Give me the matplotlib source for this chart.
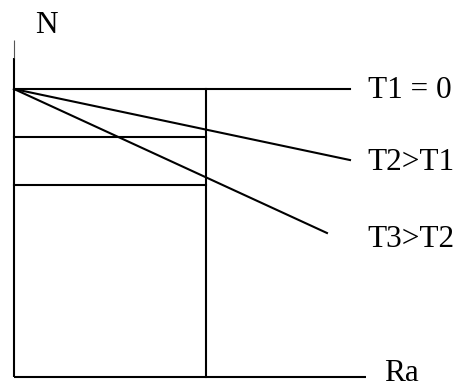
import matplotlib.pyplot as plt

# schematic N vs Ra, arbitrary units (Ra_c = 1)
ra_crit = 1.0
ra_end = 1.833
n0 = 1.5
n_levels = [1.25, 1.0]
line_ends_x = [1.75, 1.75, 1.63]
line_ends_y = [1.5, 1.13, 0.75]
labels = ["T1 = 0", "T2>T1", "T3>T2"]
label_y = [1.493, 1.118, 0.718]

plt.rcParams["font.family"] = ["Liberation Serif", "DejaVu Serif"]

fig = plt.figure(figsize=(4.6, 3.87), dpi=100)
ax = fig.add_axes([0, 0, 1, 1])
ax.set_xlim(-14 / 192, 446 / 192)
ax.set_ylim(-10 / 192, 377 / 192)
ax.axis("off")

lw = 1.5
# axes
ax.plot([0, 0], [0, 1.66], color="black", lw=lw, solid_capstyle="butt")
ax.plot([0, 0], [1.66, 1.755], color="#555555", lw=0.8, solid_capstyle="butt")
ax.plot([0, ra_end], [0, 0], color="black", lw=lw, solid_capstyle="butt")

# critical Ra vertical
ax.plot([ra_crit, ra_crit], [0, n0], color="black", lw=lw)

# horizontal N levels up to Ra_c
for n in n_levels:
    ax.plot([0, ra_crit], [n, n], color="black", lw=lw)

# T lines from (0, n0)
for xe, ye in zip(line_ends_x, line_ends_y):
    ax.plot([0, xe], [n0, ye], color="black", lw=lw)

fs = 22.5
for lab, y in zip(labels, label_y):
    ax.text(1.842, y, lab, fontsize=fs, va="center", ha="left")

ax.text(0.17, 1.83, "N", fontsize=fs, va="center", ha="center")
ax.text(1.93, 0.018, "Ra", fontsize=fs, va="center", ha="left")

fig.savefig("out.png", dpi=100)
